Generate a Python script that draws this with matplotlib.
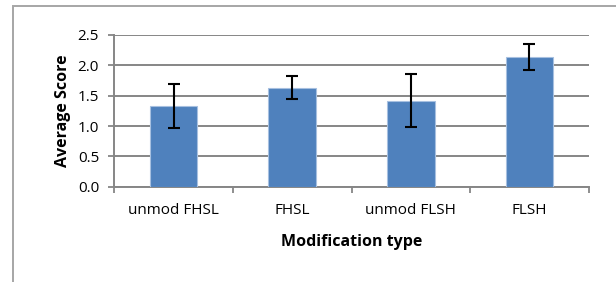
import matplotlib
matplotlib.use("Agg")
import matplotlib.pyplot as plt
from matplotlib.patches import Rectangle
import numpy as np

categories = ["unmod FHSL", "FHSL", "unmod FLSH", "FLSH"]
values = [1.33, 1.63, 1.42, 2.13]
errors = [0.355, 0.19, 0.435, 0.215]
yticks = [0.0, 0.5, 1.0, 1.5, 2.0, 2.5]

plt.rcParams['font.family'] = ['Open Sans', 'DejaVu Sans']

W, H = 616, 282
fig = plt.figure(figsize=(W/100, H/100), dpi=100)
fig.patch.set_facecolor('white')
# outer chart border (top and left visible)
fig.add_artist(Rectangle((12.7/W, -0.1), 1.2, (H-5.7)/H + 0.1, transform=fig.transFigure,
                         fill=False, edgecolor='#a6a6a6', linewidth=1.4))

x0, x1, y0, y1 = 114.3, 588.7, 186.7, 35.0
ax = fig.add_axes([x0/W, 1-y0/H, (x1-x0)/W, (y0-y1)/H])
x = np.arange(len(categories))
ax.bar(x, values, width=0.4, color='#4F81BD', edgecolor='#a7c0e0', linewidth=0.8, zorder=3)
ax.errorbar(x, values, yerr=errors, fmt='none', ecolor='black', elinewidth=1.5,
            capsize=4.2, capthick=1.5, zorder=4)
ax.set_xlim(-0.5, len(categories)-0.5)
ax.set_ylim(0, 2.5)
ax.set_yticks(yticks)
ax.set_yticklabels([f"{v:.1f}" for v in yticks], fontsize=11)
ax.yaxis.grid(True, color='#868686', linewidth=1.4, zorder=0)
ax.set_axisbelow(True)
ax.set_xticks(x)
ax.set_xticklabels(categories, fontsize=11)
ax.set_xticks(np.arange(-0.5, len(categories), 1.0), minor=True)
ax.tick_params(axis='x', which='major', length=0, pad=12)
ax.tick_params(axis='x', which='minor', length=4.5, width=1.3, color='#868686', direction='out')
ax.tick_params(axis='y', length=4, width=1.3, color='#868686', direction='out', pad=7)
for s in ['top', 'right']:
    ax.spines[s].set_visible(False)
for s in ['left', 'bottom']:
    ax.spines[s].set_color('#868686')
    ax.spines[s].set_linewidth(1.4)
ax.set_ylabel("Average Score", fontsize=11.5, fontweight='bold', labelpad=5)
ax.set_xlabel("Modification type", fontsize=11.5, fontweight='bold', labelpad=11)

fig.savefig("out.png", dpi=100, facecolor='white')
